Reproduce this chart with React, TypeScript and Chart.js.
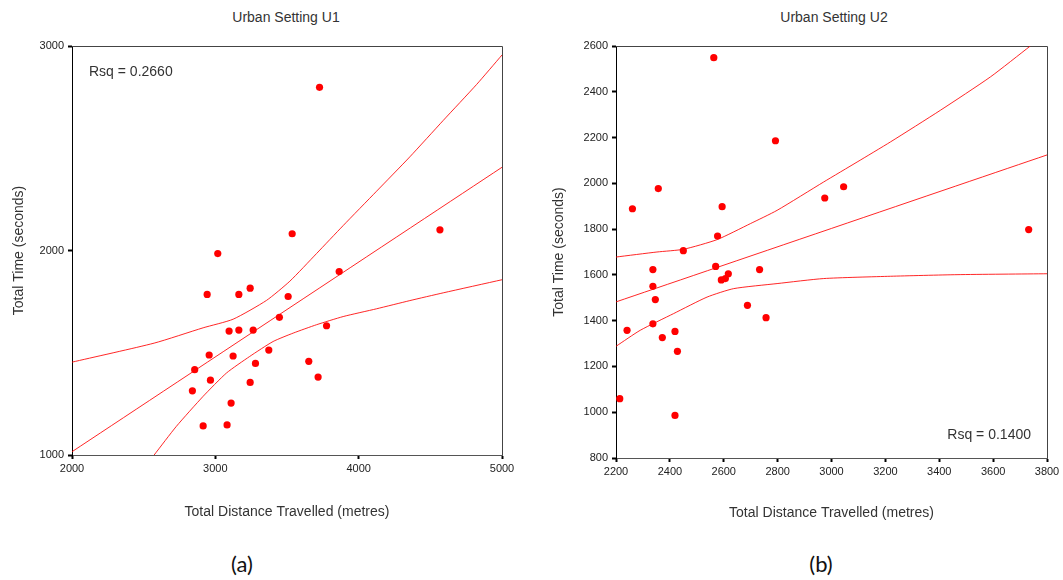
import React, { useEffect, useRef } from 'react';
import { Chart, registerables } from 'chart.js';
Chart.register(...registerables);

// ---- Urban Setting U1 ----
const u1Distance = [3727, 4567, 3536, 3017, 3864, 2943, 3164, 3243, 3508, 3447, 3776, 3096, 3164, 3264, 2957, 3124, 3373, 2856, 3280, 3652, 2966, 2840, 3243, 3717, 3110, 2915, 3082];
const u1Time = [2798, 2101, 2082, 1985, 1897, 1785, 1785, 1816, 1775, 1673, 1632, 1606, 1611, 1611, 1489, 1484, 1513, 1417, 1448, 1458, 1366, 1314, 1355, 1381, 1254, 1142, 1147];
const u1FitX = [2000, 5000];
const u1FitY = [1016, 2407];
const u1UpperX = [2000, 2573, 2915, 3124, 3357, 3520, 3706, 3892, 4125, 4357, 4590, 4823, 5000];
const u1UpperY = [1454, 1547, 1622, 1664, 1756, 1850, 1985, 2122, 2290, 2458, 2636, 2812, 2956];
const u1LowerX = [2573, 2728, 2915, 3078, 3240, 3403, 3543, 3706, 3892, 4125, 4357, 4590, 5000];
const u1LowerY = [1000, 1140, 1287, 1401, 1482, 1555, 1596, 1637, 1677, 1715, 1755, 1793, 1857];
const u1XTicks = [2000, 5000, 1000]; // min, max, step
const u1YTicks = [1000, 3000, 1000];

// ---- Urban Setting U2 ----
const u2Distance = [2563, 2792, 2357, 2261, 2594, 2975, 3045, 3732, 2577, 2450, 2570, 2337, 2733, 2617, 2606, 2591, 2337, 2346, 2688, 2757, 2337, 2241, 2419, 2372, 2428, 2214, 2419];
const u2Time = [2549, 2186, 1977, 1889, 1898, 1936, 1985, 1798, 1770, 1706, 1637, 1623, 1623, 1605, 1584, 1578, 1550, 1492, 1467, 1413, 1386, 1358, 1353, 1326, 1266, 1059, 986];
const u2FitX = [2200, 3800];
const u2FitY = [1482, 2124];
const u2UpperX = [2200, 2352, 2451, 2575, 2699, 2798, 2971, 3095, 3219, 3404, 3590, 3738];
const u2UpperY = [1678, 1700, 1712, 1754, 1824, 1882, 2006, 2093, 2181, 2319, 2465, 2600];
const u2LowerX = [2200, 2290, 2414, 2538, 2637, 2798, 2971, 3219, 3466, 3800];
const u2LowerY = [1288, 1358, 1431, 1503, 1540, 1562, 1584, 1594, 1601, 1605];
const u2XTicks = [2200, 3800, 200];
const u2YTicks = [800, 2600, 200];

const FONT = '"Liberation Sans", Arial, sans-serif';

const pts = (xs: number[], ys: number[]) => xs.map((x, i) => ({ x, y: ys[i] }));

const framePlugin = {
  id: 'frameRsq',
  beforeDatasetsDraw(chart: any, _args: any, opts: any) {
    const { ctx, chartArea: a } = chart;
    ctx.save();
    ctx.strokeStyle = '#444';
    ctx.lineWidth = 1;
    ctx.beginPath();
    ctx.moveTo(a.left, Math.floor(a.top) + 0.5);
    ctx.lineTo(Math.floor(a.right) + 0.5, Math.floor(a.top) + 0.5);
    ctx.lineTo(Math.floor(a.right) + 0.5, a.bottom);
    ctx.stroke();
    ctx.font = '14px ' + FONT;
    ctx.fillStyle = '#333';
    ctx.textBaseline = 'middle';
    if (opts.corner === 'tl') {
      ctx.textAlign = 'left';
      ctx.fillText(opts.text, a.left + 17, a.top + 26);
    } else {
      ctx.textAlign = 'right';
      ctx.fillText(opts.text, a.right - 16, a.bottom - 23);
    }
    ctx.restore();
  },
};

function makeConfig(p: {
  dx: number[]; dy: number[]; fx: number[]; fy: number[];
  ux: number[]; uy: number[]; lx: number[]; ly: number[];
  xt: number[]; yt: number[]; rsq: string; corner: string;
  yWidth: number; padding: any; xTitlePad: number;
}) {
  const line = (data: any) => ({
    type: 'line',
    data,
    showLine: true,
    borderColor: 'rgba(255,0,0,0.85)',
    borderWidth: 1,
    pointRadius: 0,
    fill: false,
    tension: 0.2,
  });
  const tickFont = { family: FONT, size: 11 };
  const titleFont = { family: FONT, size: 14 };
  const plain = (v: any) => String(v);
  return {
    type: 'scatter',
    data: {
      datasets: [
        {
          data: pts(p.dx, p.dy),
          backgroundColor: '#ff0000',
          borderWidth: 0,
          pointRadius: 3.6,
          pointHoverRadius: 3.6,
        },
        line(pts(p.fx, p.fy)),
        line(pts(p.ux, p.uy)),
        line(pts(p.lx, p.ly)),
      ],
    },
    plugins: [framePlugin],
    options: {
      responsive: false,
      animation: false,
      events: [],
      layout: { padding: p.padding },
      plugins: {
        legend: { display: false },
        tooltip: { enabled: false },
        frameRsq: { text: p.rsq, corner: p.corner },
      },
      scales: {
        x: {
          type: 'linear',
          min: p.xt[0],
          max: p.xt[1],
          ticks: { stepSize: p.xt[2], font: tickFont, color: '#222', padding: 3, maxRotation: 0, callback: plain },
          grid: { drawOnChartArea: false, drawTicks: true, tickLength: 4, tickWidth: 2, tickColor: '#000' },
          border: { display: true, color: '#555', width: 1 },
          title: {
            display: true,
            text: 'Total Distance Travelled (metres)',
            font: titleFont,
            color: '#333',
            padding: { top: 0, bottom: p.xTitlePad },
          },
          afterFit: (s: any) => { s.height = 70; },
        },
        y: {
          type: 'linear',
          min: p.yt[0],
          max: p.yt[1],
          ticks: { stepSize: p.yt[2], font: tickFont, color: '#222', padding: 4, callback: plain },
          grid: { drawOnChartArea: false, drawTicks: true, tickLength: 4, tickWidth: 2, tickColor: '#000' },
          border: { display: true, color: '#000', width: 1 },
          title: {
            display: true,
            text: 'Total Time (seconds)',
            font: titleFont,
            color: '#333',
            padding: { top: 11, bottom: 0 },
          },
          afterFit: (s: any) => { s.width = p.yWidth; },
        },
      },
    },
  };
}

export default function App() {
  const c1 = useRef<HTMLCanvasElement>(null);
  const c2 = useRef<HTMLCanvasElement>(null);

  useEffect(() => {
    const ch1 = new Chart(c1.current as any, makeConfig({
      dx: u1Distance, dy: u1Time, fx: u1FitX, fy: u1FitY,
      ux: u1UpperX, uy: u1UpperY, lx: u1LowerX, ly: u1LowerY,
      xt: u1XTicks, yt: u1YTicks, rsq: 'Rsq = 0.2660', corner: 'tl',
      yWidth: 72, padding: { top: 46, right: 38, bottom: 15, left: 0 }, xTitlePad: 4,
    }) as any);
    const ch2 = new Chart(c2.current as any, makeConfig({
      dx: u2Distance, dy: u2Time, fx: u2FitX, fy: u2FitY,
      ux: u2UpperX, uy: u2UpperY, lx: u2LowerX, ly: u2LowerY,
      xt: u2XTicks, yt: u2YTicks, rsq: 'Rsq = 0.1400', corner: 'br',
      yWidth: 76, padding: { top: 46, right: 16, bottom: 12, left: 0 }, xTitlePad: 6,
    }) as any);
    return () => { ch1.destroy(); ch2.destroy(); };
  }, []);

  const titleStyle: React.CSSProperties = {
    position: 'absolute', top: 9, width: 300, textAlign: 'center',
    font: '14px ' + FONT, color: '#333', lineHeight: '16px', whiteSpace: 'nowrap',
  };
  const capStyle: React.CSSProperties = {
    position: 'absolute', top: 550, width: 100, textAlign: 'center',
    font: '22px Lato, "Open Sans", sans-serif', color: '#111', lineHeight: '28px',
  };

  return (
    <div style={{ position: 'absolute', left: 0, top: 0, width: 1063, height: 580, background: '#fff', overflow: 'hidden' }}>
      <div style={{ ...titleStyle, left: 286 - 150 }}>Urban Setting U1</div>
      <div style={{ ...titleStyle, left: 834 - 150 }}>Urban Setting U2</div>
      <canvas ref={c1} width={540} height={540} style={{ position: 'absolute', left: 0, top: 0 }} />
      <canvas ref={c2} width={523} height={540} style={{ position: 'absolute', left: 540, top: 0 }} />
      <div style={{ ...capStyle, left: 242 - 50 }}>(a)</div>
      <div style={{ ...capStyle, left: 821 - 50 }}>(b)</div>
    </div>
  );
}
